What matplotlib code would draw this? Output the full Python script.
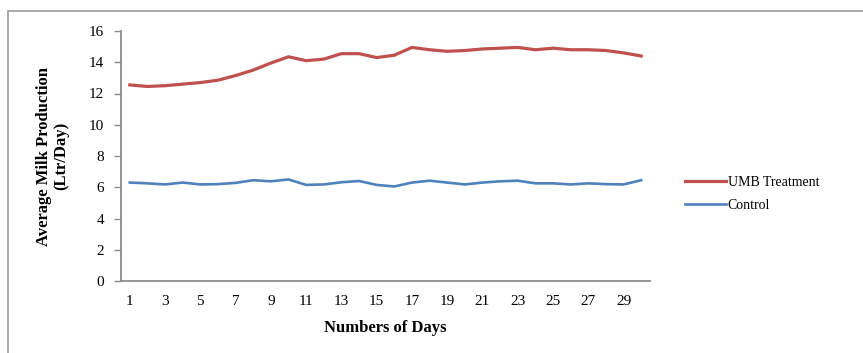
import matplotlib
matplotlib.use("Agg")
import matplotlib.pyplot as plt
from matplotlib.patches import Rectangle

# Daily average milk yield (Ltr/Day) over 30 days
days = list(range(1, 31))
umb_treatment = [12.55, 12.45, 12.5, 12.6, 12.7, 12.85, 13.15, 13.5, 13.95, 14.35,
                 14.1, 14.2, 14.55, 14.55, 14.3, 14.45, 14.95, 14.8, 14.7, 14.75,
                 14.85, 14.9, 14.95, 14.8, 14.9, 14.8, 14.8, 14.75, 14.6, 14.4]
control = [6.3, 6.25, 6.18, 6.3, 6.18, 6.2, 6.28, 6.45, 6.38, 6.5,
           6.15, 6.18, 6.32, 6.4, 6.15, 6.05, 6.3, 6.42, 6.3, 6.18,
           6.3, 6.38, 6.42, 6.25, 6.25, 6.18, 6.25, 6.2, 6.18, 6.45]
x_tick_labels = [str(d) for d in days[::2]]
y_ticks = [0, 2, 4, 6, 8, 10, 12, 14, 16]

W, H = 863, 353
plt.rcParams['font.family'] = ['Liberation Serif', 'DejaVu Serif']

fig = plt.figure(figsize=(W / 100, H / 100), dpi=100)
fig.patch.set_facecolor('white')

# chart-area frame
fig.patches.append(Rectangle((8 / W, -0.05), 1.0, 1 - 11 / H + 0.05,
                             transform=fig.transFigure, fill=False,
                             edgecolor='#9a9a9a', linewidth=1.2))

ax = fig.add_axes([121 / W, 1 - 281 / H, (650 - 121) / W, (281 - 31) / H])
ax.plot(days, umb_treatment, color='#C0504D', linewidth=2.3, label='UMB Treatment')
ax.plot(days, control, color='#4F81BD', linewidth=1.9, label='Control')

ax.set_xlim(0.5, 30.5)
ax.set_ylim(0, 16)
ax.set_yticks(y_ticks)
ax.set_xticks(days[::2])
ax.set_xticklabels(x_tick_labels)

for side in ('top', 'right'):
    ax.spines[side].set_visible(False)
for side in ('left', 'bottom'):
    ax.spines[side].set_color('#8c8c8c')
    ax.spines[side].set_linewidth(1.3)

ax.tick_params(axis='y', length=5, width=1.0, color='#8c8c8c', labelsize=11, pad=7)
ax.tick_params(axis='x', length=0, labelsize=11, pad=10)

ax.set_xlabel('Numbers of Days', fontsize=12, fontweight='bold', labelpad=9)
ax.set_ylabel('Average Milk Production\n(Ltr/Day)', fontsize=12, fontweight='bold',
              labelpad=14, linespacing=1.1)

ax.legend(loc='center left', bbox_to_anchor=(672 / W, 1 - 194 / H),
          bbox_transform=fig.transFigure, frameon=False, fontsize=10,
          handlelength=3.0, handletextpad=0.1, labelspacing=0.75)

fig.savefig('out.png', dpi=100)
